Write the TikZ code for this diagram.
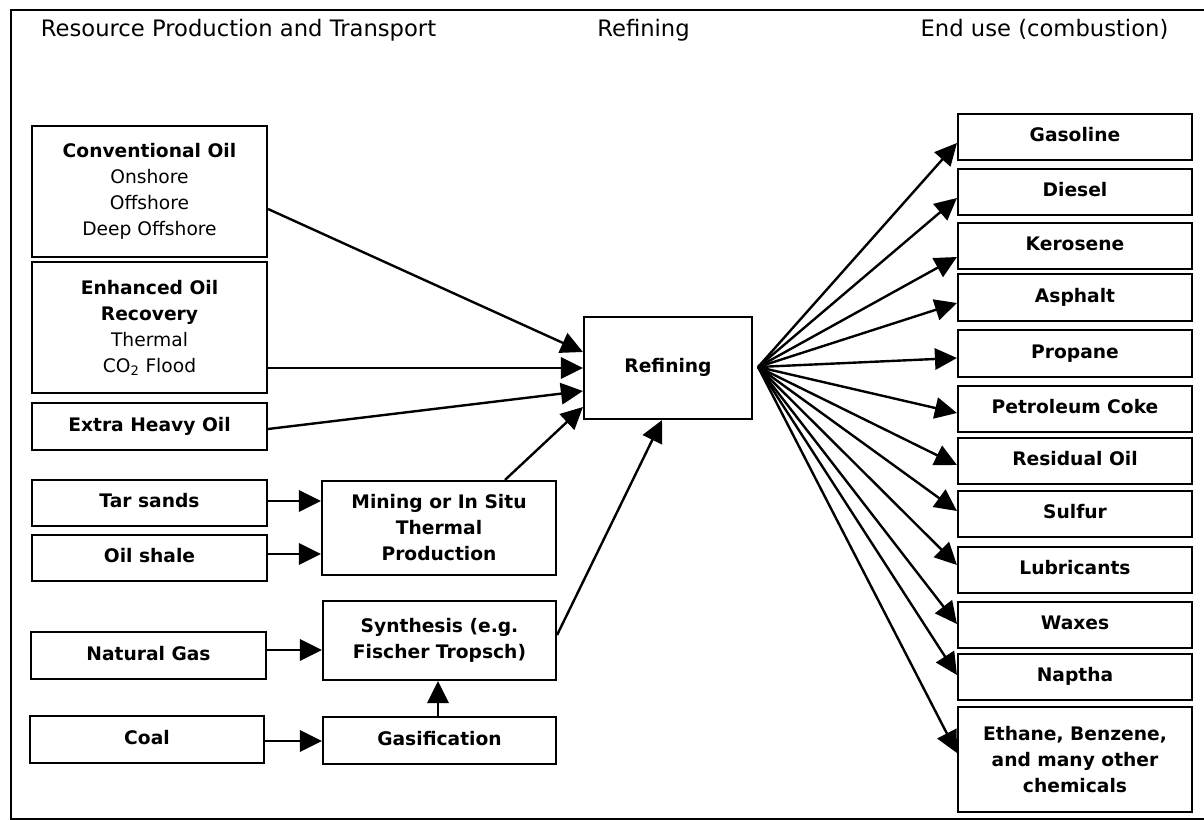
\documentclass[tikz,border=0pt]{standalone}
\usepackage{fontspec}
\setmainfont{DejaVu Sans}
\usetikzlibrary{arrows.meta,calc}
\begin{document}
\begin{tikzpicture}[x=0.75pt,y=-0.75pt,
  box/.style={draw,line width=1.6pt,inner sep=0pt,align=center,font=\fontsize{14}{19.5}\selectfont},
  one/.style={text height=10.2pt,text depth=3pt},
  arr/.style={line width=1.8pt,-{Triangle[length=16.5pt,width=16pt]}},
  hdr/.style={font=\fontsize{17}{20}\selectfont,anchor=base,inner sep=0pt}]
\useasboundingbox (0,0) rectangle (1204,820);
\draw[line width=1.6pt] (1210,10) -- (11,10) -- (11,819) -- (1210,819);

% headers
\node[hdr] (h1) at (238.5,37) {Resource Production and Transport};
\node[hdr] (h2) at (643.5,37) {Refining};
\node[hdr] (h3) at (1044.5,37) {End use (combustion)};

% left column
\node[box,minimum width=176.25pt,minimum height=98.25pt] (conv) at (149.5,191.5)
  {\textbf{Conventional Oil}\\Onshore\\Offshore\\Deep Offshore};
\node[box,minimum width=176.25pt,minimum height=98.25pt] (eor) at (149.5,327.5)
  {\textbf{Enhanced Oil}\\\textbf{Recovery}\\Thermal\\CO\textsubscript{2} Flood};
\node[box,one,minimum width=176.25pt,minimum height=35.25pt] (xheavy) at (149.5,426.5) {\textbf{Extra Heavy Oil}};
\node[box,one,minimum width=176.25pt,minimum height=34.5pt] (tar) at (149.5,503) {\textbf{Tar sands}};
\node[box,one,minimum width=176.25pt,minimum height=34.5pt] (shale) at (149.5,558) {\textbf{Oil shale}};
\node[box,one,minimum width=176.25pt,minimum height=35.25pt] (ng) at (148.5,655.5) {\textbf{Natural Gas}};
\node[box,one,minimum width=175.5pt,minimum height=35.25pt] (coal) at (147,739.5) {\textbf{Coal}};

% middle column
\node[box,minimum width=175.5pt,minimum height=70.5pt] (mining) at (439,528)
  {\textbf{Mining or In Situ}\\\textbf{Thermal}\\\textbf{Production}};
\node[box,minimum width=174.75pt,minimum height=59.25pt] (synth) at (439.5,640.5)
  {\textbf{Synthesis (e.g.}\\\textbf{Fischer Tropsch)}};
\node[box,one,minimum width=174.75pt,minimum height=35.25pt] (gasif) at (439.5,740.5) {\textbf{Gasification}};
\node[box,one,minimum width=126pt,minimum height=76.5pt] (ref) at (668,368) {\textbf{Refining}};

% right column
\node[box,one,minimum width=175.5pt,minimum height=34.5pt] (gasoline) at (1075,137) {\textbf{Gasoline}};
\node[box,one,minimum width=175.5pt,minimum height=34.5pt] (diesel) at (1075,192) {\textbf{Diesel}};
\node[box,one,minimum width=175.5pt,minimum height=34.5pt] (kerosene) at (1075,246) {\textbf{Kerosene}};
\node[box,one,minimum width=175.5pt,minimum height=35.25pt] (asphalt) at (1075,297.5) {\textbf{Asphalt}};
\node[box,one,minimum width=175.5pt,minimum height=35.25pt] (propane) at (1075,353.5) {\textbf{Propane}};
\node[box,one,minimum width=175.5pt,minimum height=34.5pt] (coke) at (1075,409) {\textbf{Petroleum Coke}};
\node[box,one,minimum width=175.5pt,minimum height=34.5pt] (resid) at (1075,461) {\textbf{Residual Oil}};
\node[box,one,minimum width=175.5pt,minimum height=34.5pt] (sulfur) at (1075,514) {\textbf{Sulfur}};
\node[box,one,minimum width=175.5pt,minimum height=34.5pt] (lube) at (1075,570) {\textbf{Lubricants}};
\node[box,one,minimum width=175.5pt,minimum height=34.5pt] (waxes) at (1075,625) {\textbf{Waxes}};
\node[box,one,minimum width=175.5pt,minimum height=34.5pt] (naptha) at (1075,677) {\textbf{Naptha}};
\node[box,minimum width=175.5pt,minimum height=78.75pt] (ethane) at (1075,759.5)
  {\textbf{Ethane, Benzene,}\\\textbf{and many other}\\\textbf{chemicals}};

% inputs to refining
\draw[arr] ($(conv.east)+(0,17.5)$) -- ($(ref.west)+(0,-16)$);
\draw[arr] ($(eor.east)+(0,40.5)$) -- (ref.west);
\draw[arr] ($(xheavy.east)+(0,2.5)$) -- ($(ref.west)+(0,23)$);
\draw[arr] ($(mining.north)+(66,0)$) -- ($(ref.west)+(0,39)$);
\draw[arr] ($(synth.east)+(0,-5.5)$) -- ($(ref.south)+(-6,0)$);

\draw[arr] ($(tar.east)+(0,-2)$) -- ($(mining.west)+(0,-27)$);
\draw[arr] ($(shale.east)+(0,-4)$) -- ($(mining.west)+(0,26)$);
\draw[arr] ($(ng.east)+(0,-5.5)$) -- ($(synth.west)+(0,9.5)$);
\draw[arr] ($(coal.east)+(0,1.5)$) -- ($(gasif.west)+(0,0.5)$);
\draw[arr] ($(gasif.north)+(-1.5,0)$) -- ($(synth.south)+(-1.5,0)$);

% outputs
\coordinate (hub) at ($(ref.east)+(5,-1)$);
\draw[arr] (hub) -- ($(gasoline.west)+(0,6)$);
\draw[arr] (hub) -- ($(diesel.west)+(0,6)$);
\draw[arr] (hub) -- ($(kerosene.west)+(0,11)$);
\draw[arr] (hub) -- ($(asphalt.west)+(0,5.5)$);
\draw[arr] (hub) -- ($(propane.west)+(0,4.5)$);
\draw[arr] (hub) -- ($(coke.west)+(0,4)$);
\draw[arr] (hub) -- ($(resid.west)+(0,4)$);
\draw[arr] (hub) -- ($(sulfur.west)+(0,-3)$);
\draw[arr] (hub) -- ($(lube.west)+(0,-5)$);
\draw[arr] (hub) -- ($(waxes.west)+(0,-1)$);
\draw[arr] (hub) -- ($(naptha.west)+(0,-2)$);
\draw[arr] (hub) -- ($(ethane.west)+(0,-6.5)$);
\end{tikzpicture}
\end{document}
